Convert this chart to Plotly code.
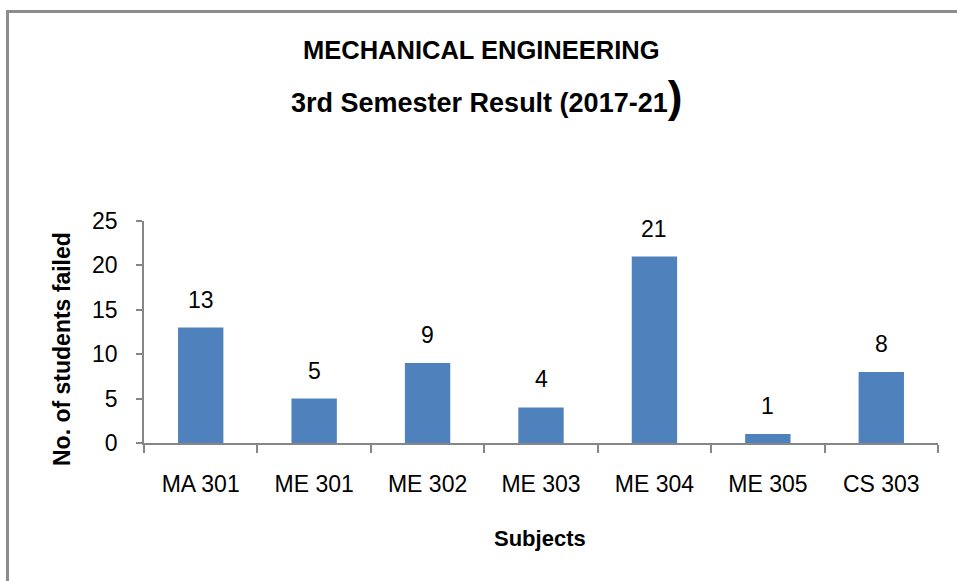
import plotly.graph_objects as go

subjects = ['MA 301', 'ME 301', 'ME 302', 'ME 303', 'ME 304', 'ME 305', 'CS 303']
failed = [13, 5, 9, 4, 21, 1, 8]
y_ticks = [0, 5, 10, 15, 20, 25]

FONT = 'Liberation Sans, Arial, sans-serif'
W, H = 957, 581
L, R, T, B = 144, 19, 221, 138
pw, ph = W - L - R, H - T - B


def px_x(x):
    # figure pixel -> paper fraction
    return (x - L) / pw


def px_y(y):
    return (H - B - y) / ph


def label(x, y, text, size, angle=0):
    fig.add_annotation(x=px_x(x), y=px_y(y), xref='paper', yref='paper',
                       xanchor='center', yanchor='middle', text=text,
                       textangle=angle, showarrow=False,
                       font=dict(family=FONT, size=size, color='#000'))


fig = go.Figure()
fig.add_trace(go.Bar(x=subjects, y=failed, width=0.4,
                     marker=dict(color='#4F81BD', line=dict(width=0))))

# data labels above the bars
for s, v in zip(subjects, failed):
    fig.add_annotation(x=s, y=v, text=str(v), showarrow=False,
                       yanchor='bottom', yshift=13,
                       font=dict(family=FONT, size=23, color='#000'))

# titles
label(481, 50, '<b>MECHANICAL ENGINEERING</b>', 25.5)
label(486, 97, '<b>3rd Semester Result (2017-21<span style="font-size:44px">)</span></b>', 27)
label(62, 349, '<b>No. of students failed</b>', 23, angle=-90)
label(540, 538, '<b>Subjects</b>', 22)

# outer border, runs off the right and bottom edges
fig.add_shape(type='rect', xref='paper', yref='paper',
              x0=px_x(7.5), x1=px_x(1100), y0=px_y(700), y1=px_y(11.5),
              line=dict(color='#8c8c8c', width=3), fillcolor='rgba(0,0,0,0)')

fig.update_xaxes(type='category', showgrid=False, showline=True,
                 linecolor='#868686', linewidth=1.5, ticks='outside',
                 tickson='boundaries', ticklen=8, tickcolor='#868686', tickwidth=1.5,
                 tickfont=dict(family=FONT, size=23, color='#000'),
                 ticklabelstandoff=20)
fig.update_yaxes(range=[0, 25], tickvals=y_ticks, showgrid=False, zeroline=False,
                 showline=True, linecolor='#868686', linewidth=1.5,
                 ticks='outside', ticklen=6, tickcolor='#868686', tickwidth=1.5,
                 tickfont=dict(family=FONT, size=23, color='#000'),
                 ticklabelstandoff=14)

fig.update_layout(width=W, height=H, margin=dict(l=L, r=R, t=T, b=B),
                  plot_bgcolor='white', paper_bgcolor='white',
                  showlegend=False, bargap=0.6)

fig.write_html('out.html', config={'displayModeBar': False},
               post_script="document.body.style.margin='0';")
